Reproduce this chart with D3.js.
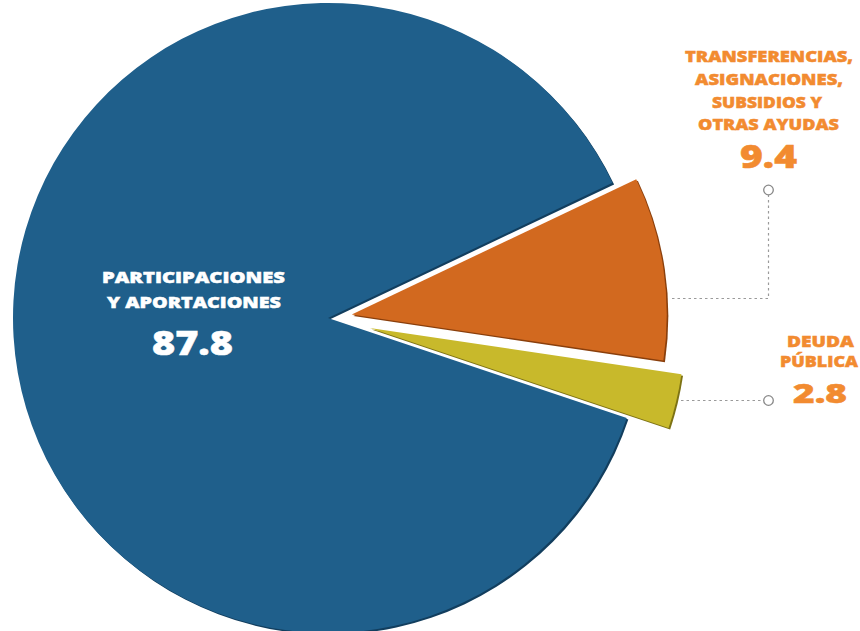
<!DOCTYPE html>
<html><head><meta charset="utf-8">
<script src="https://cdn.jsdelivr.net/npm/d3@7"></script>
<style>html,body{margin:0;padding:0;background:#fff;}</style>
</head><body>
<svg id="c" width="860" height="631"></svg>
<script>
const categories = ["PARTICIPACIONES Y APORTACIONES", "TRANSFERENCIAS, ASIGNACIONES, SUBSIDIOS Y OTRAS AYUDAS", "DEUDA PÚBLICA"];
const values = [87.8, 9.4, 2.8];
const valueLabels = ["87.8", "9.4", "2.8"];
const labelLines = [["PARTICIPACIONES", "Y APORTACIONES"], ["TRANSFERENCIAS,", "ASIGNACIONES,", "SUBSIDIOS Y", "OTRAS AYUDAS"], ["DEUDA", "PÚBLICA"]];

const colors = ["#1f5f8b", "#d2691f", "#c8b92b"];
const shadows = ["#123e5e", "#8a3f0c", "#7d7214"];
const explode = [0, 24, 43];
const cx = 328, cy = 318, R = 315;

const svg = d3.select("#c");
const pie = d3.pie().sort(null).value(d => d).startAngle(108.5 * Math.PI / 180).endAngle((108.5 + 360) * Math.PI / 180);
const arcs = pie(values);
const arc = d3.arc().innerRadius(0).outerRadius(R);

const g = svg.append("g").attr("transform", `translate(${cx},${cy})`);
arcs.forEach((a, i) => {
  const mid = (a.startAngle + a.endAngle) / 2;
  const dx = explode[i] * Math.sin(mid), dy = -explode[i] * Math.cos(mid);
  const sg = g.append("g").attr("transform", `translate(${dx},${dy})`);
  sg.append("path").attr("d", arc(a)).attr("fill", shadows[i]).attr("transform", "translate(1.6,1.6)");
  sg.append("path").attr("d", arc(a)).attr("fill", colors[i]);
});

// leader lines
const lc = "#9a9a9a";
svg.append("path").attr("d", "M672,298.5 H768.5 V195").attr("fill", "none").attr("stroke", lc).attr("stroke-width", 1.2).attr("stroke-dasharray", "2.5,3");
svg.append("circle").attr("cx", 768.5).attr("cy", 190).attr("r", 4.8).attr("fill", "#fff").attr("stroke", "#888").attr("stroke-width", 1.3);
svg.append("path").attr("d", "M681,400.5 H763").attr("fill", "none").attr("stroke", lc).attr("stroke-width", 1.2).attr("stroke-dasharray", "2.5,3");
svg.append("circle").attr("cx", 768.5).attr("cy", 400.5).attr("r", 4.8).attr("fill", "#fff").attr("stroke", "#888").attr("stroke-width", 1.3);

const font = "'Open Sans', Lato, sans-serif";
// layout: [x, baseline y, width, font size] per line, then number
const layout = [
  { lines: [[193.5, 283, 183, 16.5], [194, 308, 174, 16.5]], num: [192.5, 355, 81, 33], color: "#ffffff" },
  { lines: [[769, 62, 168, 16.5], [769, 85, 148, 16.5], [767, 108, 110, 16.5], [768.5, 130, 141, 16.5]], num: [768.5, 168, 57, 31], color: "#f28b30" },
  { lines: [[820.5, 347, 67, 16.5], [819, 367, 78, 16.5]], num: [820, 403, 54, 26], color: "#f28b30" }
];
function txt(spec, t, color) {
  const [x, y, w, fs] = spec;
  svg.append("text").attr("x", x - w / 2).attr("y", y)
    .attr("textLength", w).attr("lengthAdjust", "spacingAndGlyphs")
    .attr("font-family", font).attr("font-weight", 800).attr("font-size", fs)
    .attr("fill", color).attr("stroke", color).attr("stroke-width", 0.5).text(t);
}
layout.forEach((L, i) => {
  L.lines.forEach((s, k) => txt(s, labelLines[i][k], L.color));
  txt(L.num, valueLabels[i], L.color);
});
</script>
</body></html>
